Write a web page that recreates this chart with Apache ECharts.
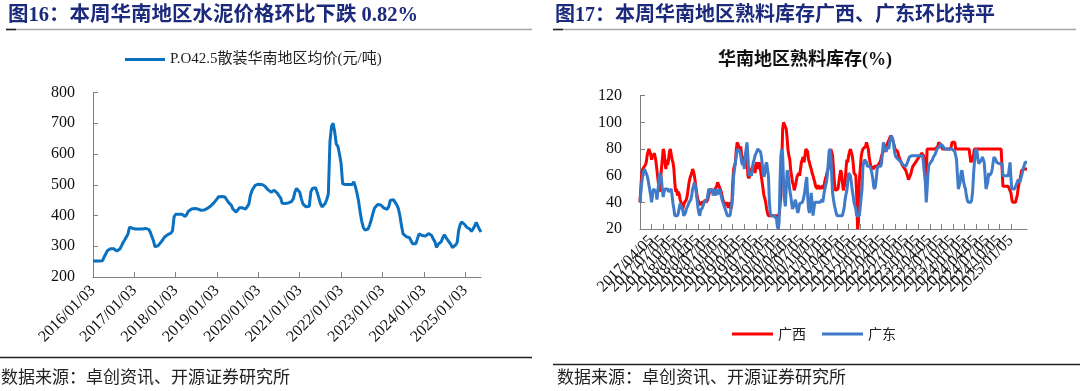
<!DOCTYPE html>
<html><head><meta charset="utf-8">
<script src="https://cdn.jsdelivr.net/npm/echarts@6/dist/echarts.min.js"></script>
<style>html,body{margin:0;padding:0;background:#fff;}#c{width:1080px;height:391px;}</style>
</head><body><div id="c"></div>
<script>
// ---------- Figure 16: P.O42.5 bulk cement price, South China (biweekly, from 2016/01/03) ----------
const priceStart = '2016-01-03';
const priceTickLabels = ['2016/01/03','2017/01/03','2018/01/03','2019/01/03','2020/01/03','2021/01/03','2022/01/03','2023/01/03','2024/01/03','2025/01/03'];
const priceValues = [
252,252,252,252,252,252,253,265,275,285,
288,292,296,292,286,284,283,292,302,313,
321,327,340,362,360,358,360,356,356,356,
356,356,357,358,362,355,346,342,318,298,
298,302,308,315,322,330,335,338,340,343,
350,396,404,404,404,404,404,400,397,404,
414,419,421,422,423,422,421,420,417,416,
418,421,423,425,431,437,441,447,454,461,
463,462,461,460,452,444,441,433,421,416,
411,410,425,425,425,423,421,429,437,466,
481,490,498,501,502,502,501,500,496,490,
484,479,476,479,482,477,472,464,457,440,
439,439,440,441,443,446,455,476,488,490,
476,455,438,433,428,426,430,477,488,489,
490,475,457,439,428,422,439,452,470,640,
690,700,672,632,625,600,570,503,501,501,
501,501,501,501,510,494,473,447,411,381,
361,353,355,356,369,386,406,424,430,436,
435,434,429,424,419,420,429,450,454,451,
445,435,423,400,367,340,335,331,330,328,
318,308,308,308,324,340,339,335,330,333,
338,341,342,335,323,315,296,306,306,315,
328,338,328,321,315,306,296,298,304,312,
353,372,379,380,369,362,359,356,348,356,
366,378,366,355,346
];
const priceName = 'P.O42.5散装华南地区均价(元/吨)';

// ---------- Figure 17: clinker inventory ratio (%), weekly from 2017/01/05 ----------
const stockStart = '2017-01-05';
const stockTickLabels = [
'2017/01/05','2017/04/05','2017/07/05','2017/10/05',
'2018/01/05','2018/04/05','2018/07/05','2018/10/05',
'2019/01/05','2019/04/05','2019/07/05','2019/10/05',
'2020/01/05','2020/04/05','2020/07/05','2020/10/05',
'2021/01/05','2021/04/05','2021/07/05','2021/10/05',
'2022/01/05','2022/04/05','2022/07/05','2022/10/05',
'2023/01/05','2023/04/05','2023/07/05','2023/10/05',
'2024/01/05','2024/04/05','2024/07/05','2024/10/05',
'2025/01/05','2025/04/05'];
const guangxiStock = [
40,52,62,65,65,66,68,70,75,78,
80,80,76,72,76,74,77,74,70,64,
58,52,48,55,65,72,80,78,70,65,
72,68,72,78,80,76,72,70,65,55,
48,50,45,48,46,42,40,38,35,38,
40,40,42,45,50,55,58,60,62,65,
63,60,55,50,45,42,40,40,38,40,
40,40,40,42,40,40,42,45,48,50,
50,48,50,47,50,50,52,55,55,55,
50,48,45,42,40,40,38,40,38,36,
38,40,35,38,55,65,66,70,80,85,
85,85,80,82,75,72,70,72,75,70,
72,60,58,60,62,65,65,68,65,62,
68,70,65,68,70,65,60,55,50,45,
43,40,35,32,30,30,30,30,30,30,
30,30,30,30,30,30,30,30,45,70,
95,100,100,100,95,88,79,75,72,64,
60,55,53,49,50,55,59,60,62,60,
65,70,72,74,70,75,80,80,78,72,
70,67,65,62,60,59,55,52,53,50,
53,50,49,52,50,53,50,55,58,60,
63,65,68,75,80,80,75,65,55,49,
50,48,50,55,60,64,62,55,49,50,
55,65,72,70,75,78,80,80,75,70,
62,62,60,45,20,25,57,65,74,78,
80,80,80,82,85,85,80,74,70,67,
68,67,65,67,67,66,67,67,68,70,
72,75,77,77,78,80,82,83,85,85,
88,90,90,88,85,83,80,79,80,78,
75,73,72,70,68,67,66,65,64,62,
60,57,58,60,62,65,67,68,68,70,
70,72,72,74,74,75,77,77,75,70,
62,60,80,80,80,80,80,80,80,80,
80,80,80,80,82,85,85,85,82,80,
80,80,80,80,80,80,80,80,80,82,
85,85,85,85,80,80,80,80,80,80,
80,80,80,80,80,80,80,80,80,80,
80,70,70,70,75,80,80,80,80,80,
80,80,80,80,80,80,80,80,80,80,
80,80,80,80,80,80,80,80,80,80,
80,80,80,80,80,80,80,52,52,52,
52,52,52,52,52,52,47,42,40,40,
40,40,40,45,50,54,55,60,64,65,
65,65,65,65,65
];
const guangdongStock = [
40,48,55,60,63,65,65,64,60,57,
53,49,45,40,45,50,50,50,48,42,
48,55,62,62,58,50,44,48,50,50,
49,50,48,48,49,50,45,39,35,30,
30,30,30,32,36,39,40,38,34,30,
30,32,35,35,38,40,40,42,45,50,
52,55,52,48,42,36,32,30,34,35,
36,38,40,40,40,42,45,50,50,50,
48,50,45,50,48,45,50,50,46,50,
48,45,42,40,38,36,35,32,30,30,
30,30,30,30,45,60,65,66,75,80,
80,80,78,75,70,68,70,65,75,80,
85,75,62,60,62,60,65,70,72,75,
75,78,80,80,80,78,75,69,62,59,
62,68,70,70,60,42,32,30,30,30,
30,30,30,28,22,20,25,55,75,80,
75,55,42,37,50,64,62,55,49,45,
40,35,35,38,42,40,35,32,35,39,
40,39,40,42,45,49,55,59,45,35,
32,40,47,40,30,35,40,40,40,40,
40,40,40,40,42,40,45,49,52,55,
60,68,78,80,75,60,47,42,38,35,
32,30,30,30,30,30,30,30,30,36,
42,46,49,55,62,62,60,55,49,45,
40,39,35,30,30,30,30,30,30,50,
67,70,72,72,70,67,67,68,67,65,
62,58,52,50,52,58,65,67,67,66,
67,70,78,85,82,80,78,80,82,80,
85,88,90,90,86,80,76,74,74,73,
72,72,72,70,70,68,67,67,67,68,
70,72,74,75,75,75,75,75,75,75,
75,75,75,75,75,75,75,75,75,75,
55,40,50,62,68,69,70,70,72,74,
74,76,78,80,80,80,82,84,85,85,
82,80,80,80,80,80,80,80,80,80,
80,80,80,78,75,72,60,50,50,55,
62,64,60,55,52,50,45,42,40,40,
40,40,42,48,60,70,78,80,78,72,
69,69,70,72,74,74,70,60,50,50,
55,62,60,60,62,65,70,74,74,72,
70,69,69,69,69,69,69,60,60,60,
60,60,60,60,65,70,58,50,50,50,
50,50,50,55,57,57,55,55,60,63,
66,68,70,70,70
];
const stockSeriesNames = ['广西','广东'];

// ---------- helpers ----------
function fmt(d){const m=('0'+(d.getMonth()+1)).slice(-2),dd=('0'+d.getDate()).slice(-2);return d.getFullYear()+'/'+m+'/'+dd;}
function dateSeries(start, stepDays, n){const out=[];const p=start.split('-');const base=new Date(+p[0],+p[1]-1,+p[2]);for(let i=0;i<n;i++){const d=new Date(base.getTime());d.setDate(d.getDate()+i*stepDays);out.push(fmt(d));}return out;}
const priceDates = dateSeries(priceStart, 14, priceValues.length);
const stockDates = dateSeries(stockStart, 7, Math.max(guangxiStock.length, guangdongStock.length));
const PRICE_STEP = 26;  // biweekly points per year label
const STOCK_STEP = 13;  // weekly points per quarter label

const serif = '"Liberation Serif","Times New Roman","Noto Sans CJK SC",serif';
const mixed = '"Liberation Serif","Noto Sans CJK SC",serif';
const navy = '#1c2a7c';
const axisGray = '#7f7f7f';

const chart = echarts.init(document.getElementById('c'), null, {renderer:'canvas'});
chart.setOption({
  animation: false,
  backgroundColor: '#fff',
  graphic: [
    {type:'text', x: 8, y: 16, style:{text:'图16：本周华南地区水泥价格环比下跌 0.82%', fill: navy, font: 'bold 20.5px ' + mixed, textVerticalAlign:'middle'}},
    {type:'text', x: 555, y: 16, style:{text:'图17：本周华南地区熟料库存广西、广东环比持平', fill: navy, font: 'bold 20px ' + mixed, textVerticalAlign:'middle'}},
    {type:'line', shape:{x1:6,y1:29.5,x2:532,y2:29.5}, style:{stroke:'#a6a6a6', lineWidth:1.5}},
    {type:'line', shape:{x1:6,y1:29.5,x2:16,y2:29.5}, style:{stroke:'#222', lineWidth:1.5}},
    {type:'line', shape:{x1:553,y1:29.5,x2:1076,y2:29.5}, style:{stroke:'#a6a6a6', lineWidth:1.5}},
    {type:'line', shape:{x1:553,y1:29.5,x2:563,y2:29.5}, style:{stroke:'#222', lineWidth:1.5}},
    {type:'text', x: 805, y: 60, style:{text:'华南地区熟料库存(%)', fill:'#111', font:'bold 18px ' + mixed, textAlign:'center', textVerticalAlign:'middle'}},
    {type:'line', shape:{x1:0,y1:357.5,x2:532,y2:357.5}, style:{stroke:'#222', lineWidth:1.5}},
    {type:'line', shape:{x1:553,y1:364.5,x2:1080,y2:364.5}, style:{stroke:'#222', lineWidth:1.5}},
    {type:'text', x: 1, y: 377, style:{text:'数据来源：卓创资讯、开源证券研究所', fill:'#222', font:'17px "Noto Sans CJK SC",sans-serif', textVerticalAlign:'middle'}},
    {type:'text', x: 557, y: 377, style:{text:'数据来源：卓创资讯、开源证券研究所', fill:'#222', font:'17px "Noto Sans CJK SC",sans-serif', textVerticalAlign:'middle'}}
  ],
  legend: [
    {left: 120, top: 47, itemWidth: 40, itemHeight: 3, itemGap: 10, icon:'rect',
     textStyle:{fontFamily: mixed, fontSize: 15, color:'#222'}, data:[priceName]},
    {left: 727, top: 322, itemWidth: 41, itemHeight: 3, itemGap: 16, icon:'rect',
     textStyle:{fontFamily: '"Noto Sans CJK SC",sans-serif', fontSize: 14, color:'#222'}, data: stockSeriesNames}
  ],
  grid: [
    {left: 93, top: 92.5, width: 388, height: 184.5, containLabel:false},
    {left: 640, top: 95.7, width: 387, height: 133.3, containLabel:false}
  ],
  xAxis: [
    {type:'category', gridIndex:0, data: priceDates, boundaryGap:false,
     axisLine:{lineStyle:{color:axisGray, width:1}},
     axisTick:{inside:true, length:5, interval:(i)=> i % PRICE_STEP === 0, lineStyle:{color:axisGray}},
     axisLabel:{interval:(i)=> i % PRICE_STEP === 0, rotate:45, margin:11, color:'#111', fontFamily:serif, fontSize:16,
       formatter:(v,i)=> priceTickLabels[Math.round(i/PRICE_STEP)] || ''}},
    {type:'category', gridIndex:1, data: stockDates, boundaryGap:false,
     axisLine:{lineStyle:{color:axisGray, width:1}},
     axisTick:{inside:true, length:5, interval:(i)=> i % STOCK_STEP === 0, lineStyle:{color:axisGray}},
     axisLabel:{interval:(i)=> i % STOCK_STEP === 0, rotate:45, margin:9, color:'#111', fontFamily:serif, fontSize:16, hideOverlap:false,
       formatter:(v,i)=> stockTickLabels[Math.round(i/STOCK_STEP)] || ''}}
  ],
  yAxis: [
    {type:'value', gridIndex:0, min:200, max:800, interval:100,
     axisLine:{show:true, lineStyle:{color:axisGray}}, axisTick:{show:true, inside:true, length:5, lineStyle:{color:axisGray}},
     splitLine:{show:false}, axisLabel:{margin:18, color:'#111', fontFamily:serif, fontSize:16}},
    {type:'value', gridIndex:1, min:20, max:120, interval:20,
     axisLine:{show:true, lineStyle:{color:axisGray}}, axisTick:{show:true, inside:true, length:5, lineStyle:{color:axisGray}},
     splitLine:{show:false}, axisLabel:{margin:18, color:'#111', fontFamily:serif, fontSize:16}}
  ],
  series: [
    {name: priceName, type:'line', xAxisIndex:0, yAxisIndex:0, data: priceValues, showSymbol:false, symbol:'none',
     lineStyle:{color:'#0a70c0', width:3}, itemStyle:{color:'#0a70c0'}},
    {name: stockSeriesNames[0], type:'line', xAxisIndex:1, yAxisIndex:1, data: guangxiStock, showSymbol:false, symbol:'none',
     lineStyle:{color:'#ff0000', width:3}, itemStyle:{color:'#ff0000'}},
    {name: stockSeriesNames[1], type:'line', xAxisIndex:1, yAxisIndex:1, data: guangdongStock, showSymbol:false, symbol:'none',
     lineStyle:{color:'#3f7bc8', width:3}, itemStyle:{color:'#3f7bc8'}}
  ]
});
</script></body></html>
